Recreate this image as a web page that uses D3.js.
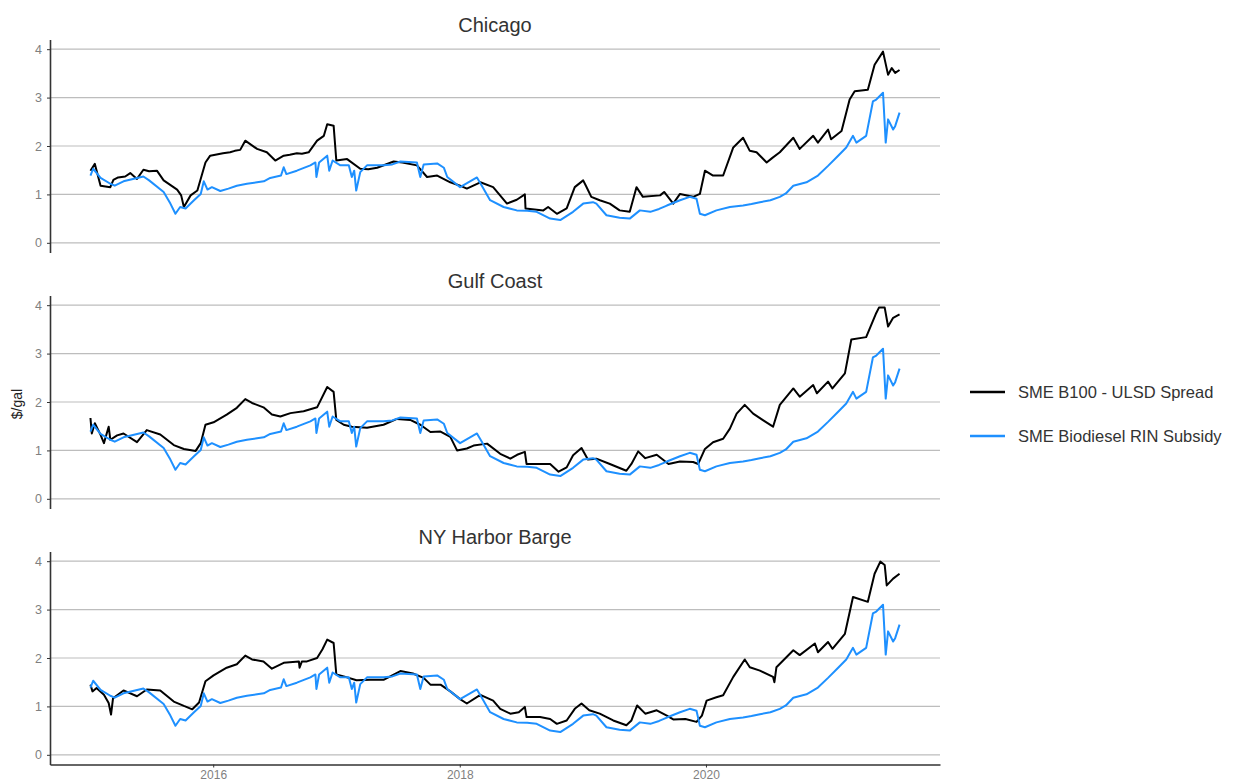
<!DOCTYPE html>
<html lang="en">
<head>
  <title>SME B100 - ULSD Spread vs Biodiesel RIN Subsidy</title>
  <meta charset="UTF-8">
  <script src="https://d3js.org/d3.v7.min.js"></script>
  <style>
    body { margin: 0; background: #fff; }
    svg { display: block; font-family: "Liberation Sans", Arial, sans-serif; }
  </style>
</head>
<body>
<svg id="chart" width="1257" height="782"></svg>

<script>
  // panel names, legend labels and tick values
  const regions = ["Chicago", "Gulf Coast", "NY Harbor Barge"]
  const seriesNames = ["SME B100 - ULSD Spread", "SME Biodiesel RIN Subsidy"]
  const yTicks = [0, 1, 2, 3, 4]
  const xTickYears = [2016, 2018, 2020]

  // $/gal
  const chicagoSpread = [
    ["2015-01-02",1.49],["2015-01-15",1.63],["2015-02-01",1.18],["2015-03-02",1.15],["2015-03-11",1.30],
    ["2015-03-25",1.35],["2015-04-15",1.37],["2015-04-30",1.44],["2015-05-20",1.32],["2015-06-08",1.51],
    ["2015-06-25",1.48],["2015-07-18",1.49],["2015-08-07",1.29],["2015-09-16",1.10],["2015-09-28",0.98],
    ["2015-10-06",0.74],["2015-10-26",0.98],["2015-11-15",1.08],["2015-12-09",1.66],["2015-12-23",1.80],
    ["2016-01-30",1.85],["2016-02-20",1.87],["2016-03-05",1.90],["2016-03-21",1.92],["2016-04-05",2.11],
    ["2016-05-10",1.94],["2016-06-08",1.87],["2016-07-03",1.70],["2016-07-28",1.80],["2016-08-15",1.82],
    ["2016-09-05",1.85],["2016-09-20",1.84],["2016-10-10",1.87],["2016-11-04",2.11],["2016-11-24",2.21],
    ["2016-12-04",2.45],["2016-12-23",2.42],["2016-12-31",1.70],["2017-02-01",1.73],["2017-03-12",1.53],
    ["2017-04-05",1.52],["2017-05-01",1.55],["2017-06-19",1.68],["2017-07-15",1.66],["2017-08-27",1.60],
    ["2017-09-26",1.36],["2017-10-26",1.39],["2017-12-04",1.25],["2018-01-02",1.18],["2018-01-22",1.12],
    ["2018-03-03",1.25],["2018-04-10",1.15],["2018-05-21",0.81],["2018-06-19",0.89],["2018-07-13",1.00],
    ["2018-07-15",0.71],["2018-09-06",0.67],["2018-09-20",0.74],["2018-10-16",0.60],["2018-11-14",0.71],
    ["2018-12-08",1.15],["2019-01-02",1.29],["2019-01-10",1.18],["2019-01-26",0.95],["2019-02-20",0.88],
    ["2019-03-22",0.81],["2019-04-20",0.67],["2019-05-20",0.64],["2019-06-09",1.15],["2019-06-28",0.95],
    ["2019-08-18",0.98],["2019-08-30",1.05],["2019-09-26",0.81],["2019-10-16",1.01],["2019-11-24",0.95],
    ["2019-12-14",1.01],["2019-12-29",1.49],["2020-01-22",1.39],["2020-02-21",1.39],["2020-03-22",1.97],
    ["2020-04-20",2.17],["2020-05-10",1.90],["2020-05-30",1.87],["2020-06-29",1.66],["2020-07-15",1.75],
    ["2020-08-07",1.87],["2020-09-16",2.17],["2020-10-05",1.94],["2020-11-14",2.21],["2020-11-28",2.07],
    ["2020-12-28",2.34],["2021-01-06",2.14],["2021-02-06",2.31],["2021-03-02",2.96],["2021-03-17",3.13],
    ["2021-04-25",3.16],["2021-05-15",3.68],["2021-06-09",3.95],["2021-06-24",3.47],["2021-07-05",3.61],
    ["2021-07-15",3.51],["2021-07-28",3.57]
  ]

  const gulfSpread = [
    ["2015-01-02",1.67],["2015-01-06",1.35],["2015-01-15",1.56],["2015-02-01",1.32],["2015-02-11",1.15],
    ["2015-02-25",1.49],["2015-03-02",1.22],["2015-03-22",1.31],["2015-04-10",1.35],["2015-05-20",1.17],
    ["2015-06-18",1.42],["2015-07-28",1.33],["2015-09-06",1.11],["2015-10-06",1.03],["2015-11-10",0.99],
    ["2015-11-25",1.15],["2015-12-09",1.53],["2016-01-02",1.58],["2016-02-10",1.74],["2016-03-11",1.88],
    ["2016-04-05",2.06],["2016-04-25",1.98],["2016-05-29",1.89],["2016-06-23",1.74],["2016-07-18",1.70],
    ["2016-08-17",1.77],["2016-09-25",1.81],["2016-11-04",1.89],["2016-12-04",2.31],["2016-12-23",2.21],
    ["2016-12-31",1.63],["2017-01-22",1.53],["2017-02-15",1.49],["2017-04-01",1.47],["2017-05-20",1.53],
    ["2017-06-29",1.65],["2017-08-07",1.63],["2017-09-06",1.53],["2017-10-06",1.38],["2017-11-05",1.39],
    ["2017-12-04",1.28],["2017-12-24",1.00],["2018-01-22",1.04],["2018-02-11",1.10],["2018-03-23",1.14],
    ["2018-05-01",0.93],["2018-05-31",0.83],["2018-06-20",0.91],["2018-07-13",0.97],["2018-07-18",0.72],
    ["2018-08-27",0.72],["2018-09-26",0.72],["2018-10-21",0.56],["2018-11-14",0.65],["2018-12-03",0.90],
    ["2018-12-28",1.05],["2019-01-16",0.81],["2019-02-10",0.83],["2019-03-22",0.72],["2019-05-10",0.58],
    ["2019-05-25",0.72],["2019-06-14",0.98],["2019-07-05",0.84],["2019-08-08",0.91],["2019-09-12",0.72],
    ["2019-10-16",0.77],["2019-11-24",0.76],["2019-12-09",0.72],["2019-12-29",1.03],["2020-01-22",1.17],
    ["2020-02-21",1.24],["2020-03-12",1.45],["2020-04-01",1.76],["2020-04-25",1.94],["2020-05-20",1.76],
    ["2020-06-19",1.62],["2020-07-18",1.49],["2020-08-07",1.94],["2020-09-16",2.28],["2020-10-05",2.11],
    ["2020-11-14",2.35],["2020-11-25",2.18],["2020-12-28",2.42],["2021-01-10",2.28],["2021-02-16",2.59],
    ["2021-03-07",3.29],["2021-04-20",3.34],["2021-05-20",3.84],["2021-05-28",3.95],["2021-06-14",3.95],
    ["2021-06-24",3.56],["2021-07-09",3.74],["2021-07-28",3.81]
  ]

  const nyhSpread = [
    ["2015-01-02",1.45],["2015-01-08",1.31],["2015-01-20",1.38],["2015-02-11",1.24],["2015-02-25",1.07],
    ["2015-03-04",0.83],["2015-03-10",1.17],["2015-04-10",1.33],["2015-05-20",1.21],["2015-06-18",1.35],
    ["2015-07-28",1.33],["2015-09-06",1.10],["2015-10-06",1.01],["2015-10-31",0.94],["2015-11-20",1.08],
    ["2015-12-09",1.52],["2016-01-02",1.64],["2016-02-10",1.80],["2016-03-11",1.87],["2016-04-05",2.05],
    ["2016-04-25",1.97],["2016-05-29",1.93],["2016-06-23",1.78],["2016-07-28",1.90],["2016-09-11",1.93],
    ["2016-09-13",1.80],["2016-09-20",1.93],["2016-10-05",1.93],["2016-11-04",2.00],["2016-11-20",2.18],
    ["2016-12-04",2.38],["2016-12-23",2.31],["2016-12-31",1.66],["2017-01-22",1.62],["2017-03-01",1.54],
    ["2017-04-10",1.55],["2017-05-20",1.55],["2017-07-09",1.73],["2017-08-15",1.68],["2017-09-16",1.59],
    ["2017-10-06",1.45],["2017-11-05",1.45],["2017-12-04",1.31],["2018-01-02",1.15],["2018-01-22",1.06],
    ["2018-03-03",1.24],["2018-04-10",1.12],["2018-05-01",0.95],["2018-05-31",0.85],["2018-06-25",0.88],
    ["2018-07-13",0.99],["2018-07-18",0.78],["2018-08-27",0.78],["2018-09-26",0.74],["2018-10-16",0.64],
    ["2018-11-14",0.71],["2018-12-08",0.95],["2018-12-28",1.06],["2019-01-20",0.92],["2019-02-20",0.85],
    ["2019-04-01",0.71],["2019-05-10",0.61],["2019-05-25",0.71],["2019-06-11",1.02],["2019-07-05",0.85],
    ["2019-08-08",0.92],["2019-09-07",0.81],["2019-09-26",0.73],["2019-11-01",0.74],["2019-12-04",0.68],
    ["2019-12-20",0.81],["2020-01-03",1.12],["2020-02-01",1.19],["2020-02-21",1.23],["2020-03-22",1.61],
    ["2020-04-25",1.97],["2020-05-10",1.81],["2020-06-09",1.74],["2020-07-18",1.61],["2020-07-22",1.50],
    ["2020-07-28",1.81],["2020-09-16",2.16],["2020-10-05",2.06],["2020-11-19",2.30],["2020-11-28",2.12],
    ["2020-12-28",2.33],["2021-01-10",2.19],["2021-02-16",2.50],["2021-03-12",3.26],["2021-04-25",3.16],
    ["2021-05-15",3.74],["2021-06-01",3.99],["2021-06-14",3.92],["2021-06-20",3.50],["2021-07-09",3.64],
    ["2021-07-28",3.74]
  ]

  // the RIN subsidy is the same in every region
  const rinSubsidy = [
    ["2015-01-02",1.39],["2015-01-10",1.53],["2015-02-01",1.34],["2015-03-02",1.22],["2015-03-15",1.18],
    ["2015-04-10",1.27],["2015-06-08",1.37],["2015-06-25",1.29],["2015-08-07",1.05],["2015-08-27",0.81],
    ["2015-09-11",0.60],["2015-09-25",0.74],["2015-10-11",0.71],["2015-11-05",0.88],["2015-11-25",1.01],
    ["2015-12-04",1.27],["2015-12-15",1.10],["2015-12-28",1.15],["2016-01-22",1.07],["2016-02-15",1.12],
    ["2016-03-11",1.18],["2016-04-10",1.22],["2016-05-10",1.25],["2016-05-30",1.27],["2016-06-18",1.34],
    ["2016-07-20",1.39],["2016-07-28",1.56],["2016-08-05",1.42],["2016-09-05",1.49],["2016-10-15",1.60],
    ["2016-10-30",1.66],["2016-11-02",1.36],["2016-11-10",1.66],["2016-12-04",1.80],["2016-12-10",1.49],
    ["2016-12-20",1.70],["2017-01-12",1.60],["2017-02-06",1.60],["2017-02-15",1.36],["2017-02-22",1.49],
    ["2017-02-28",1.08],["2017-03-12",1.46],["2017-04-01",1.60],["2017-05-20",1.60],["2017-06-15",1.62],
    ["2017-07-09",1.68],["2017-08-27",1.66],["2017-09-06",1.36],["2017-09-16",1.62],["2017-10-26",1.64],
    ["2017-11-15",1.55],["2017-11-25",1.36],["2018-01-02",1.15],["2018-02-21",1.35],["2018-03-10",1.15],
    ["2018-04-01",0.88],["2018-05-11",0.74],["2018-06-19",0.67],["2018-07-20",0.66],["2018-08-17",0.64],
    ["2018-09-26",0.50],["2018-10-26",0.47],["2018-12-03",0.64],["2019-01-02",0.81],["2019-01-31",0.84],
    ["2019-02-10",0.81],["2019-03-12",0.57],["2019-04-20",0.52],["2019-05-20",0.50],["2019-06-19",0.67],
    ["2019-07-20",0.64],["2019-08-15",0.70],["2019-09-07",0.77],["2019-10-16",0.88],["2019-11-14",0.95],
    ["2019-12-04",0.91],["2019-12-14",0.60],["2019-12-29",0.57],["2020-02-01",0.67],["2020-03-12",0.74],
    ["2020-04-20",0.77],["2020-05-15",0.80],["2020-06-09",0.84],["2020-07-10",0.88],["2020-08-07",0.95],
    ["2020-08-25",1.02],["2020-09-16",1.18],["2020-10-25",1.25],["2020-11-28",1.39],["2020-12-28",1.59],
    ["2021-01-27",1.80],["2021-02-20",1.97],["2021-03-12",2.21],["2021-03-22",2.07],["2021-04-20",2.21],
    ["2021-05-10",2.92],["2021-05-20",2.96],["2021-06-09",3.10],["2021-06-17",2.07],["2021-06-24",2.55],
    ["2021-07-09",2.34],["2021-07-15",2.41],["2021-07-28",2.69]
  ]

  const spreads = [chicagoSpread, gulfSpread, nyhSpread]
  const colors = ["#000000", "#1E90FF"]

  // layout
  const left = 50, right = 940
  const panelTop = 39.5, panelH = 213, panelGap = 43

  const parse = d3.timeParse("%Y-%m-%d")
  const svg = d3.select("#chart")

  // x: data range padded 5% on each side (like ggplot)
  const allDates = spreads.flat().concat(rinSubsidy).map(d => parse(d[0]))
  const [d0, d1] = d3.extent(allDates)
  const pad = (d1 - d0) * 0.05
  const xScale = d3.scaleTime()
    .domain([new Date(+d0 - pad), new Date(+d1 + pad)])
    .range([left, right])

  regions.forEach((region, i) => {
    const top = panelTop + i * (panelH + panelGap)
    const yScale = d3.scaleLinear().domain([-0.2, 4.2]).range([top + panelH, top])
    const g = svg.append("g")

    // horizontal grid
    g.selectAll("line.grid").data(yTicks).enter()
      .append("line").attr("class", "grid")
      .attr("x1", left).attr("x2", right)
      .attr("y1", d => yScale(d)).attr("y2", d => yScale(d))
      .attr("stroke", "#bdbdbd").attr("stroke-width", 1.2)

    // y axis
    const yAxis = d3.axisLeft(yScale).tickValues(yTicks).tickFormat(d3.format("d"))
      .tickSize(3).tickSizeOuter(0).tickPadding(5)
    const yG = g.append("g").attr("transform", `translate(${left},0)`).call(yAxis)
    yG.select(".domain").attr("stroke", "#333").attr("stroke-width", 1.6)
    yG.selectAll(".tick line").attr("stroke", "#333")
    yG.selectAll(".tick text").attr("fill", "#7f7f7f").attr("font-size", 12.5)
      .attr("font-family", "Liberation Sans, Arial, sans-serif")

    // x axis only under the last panel
    if (i === regions.length - 1) {
      const xAxis = d3.axisBottom(xScale)
        .tickValues(xTickYears.map(yr => new Date(yr, 0, 1)))
        .tickFormat(d3.timeFormat("%Y")).tickSize(3).tickSizeOuter(0).tickPadding(3)
      const xG = g.append("g").attr("transform", `translate(0,${top + panelH})`).call(xAxis)
      xG.select(".domain").attr("stroke", "#333").attr("stroke-width", 1.6)
      xG.selectAll(".tick line").attr("stroke", "#333")
      xG.selectAll(".tick text").attr("fill", "#7f7f7f").attr("font-size", 12)
        .attr("font-family", "Liberation Sans, Arial, sans-serif")
    }

    // panel title
    g.append("text")
      .attr("x", (left + right) / 2).attr("y", top - 8)
      .attr("text-anchor", "middle")
      .attr("font-size", 20).attr("fill", "#333")
      .text(region)

    const line = d3.line()
      .x(d => xScale(parse(d[0])))
      .y(d => yScale(d[1]))

    // spread first, subsidy drawn over it
    ;[spreads[i], rinSubsidy].forEach((series, k) => {
      g.append("path").datum(series)
        .attr("d", line)
        .attr("fill", "none")
        .attr("stroke", colors[k])
        .attr("stroke-width", 2)
        .attr("stroke-linejoin", "round")
    })
  })

  // y axis title
  svg.append("text")
    .attr("transform", "translate(22,404) rotate(-90)")
    .attr("text-anchor", "middle")
    .attr("font-size", 14).attr("fill", "#222")
    .text("$/gal")

  // legend
  const legend = svg.append("g").attr("transform", "translate(970,392)")
  seriesNames.forEach((name, k) => {
    legend.append("line")
      .attr("x1", 0).attr("x2", 35)
      .attr("y1", k * 44).attr("y2", k * 44)
      .attr("stroke", colors[k]).attr("stroke-width", 2.5)
    legend.append("text")
      .attr("x", 48).attr("y", k * 44)
      .attr("dy", "0.35em")
      .attr("font-size", 16.5).attr("fill", "#333")
      .text(name)
  })
</script>
</body>
</html>
